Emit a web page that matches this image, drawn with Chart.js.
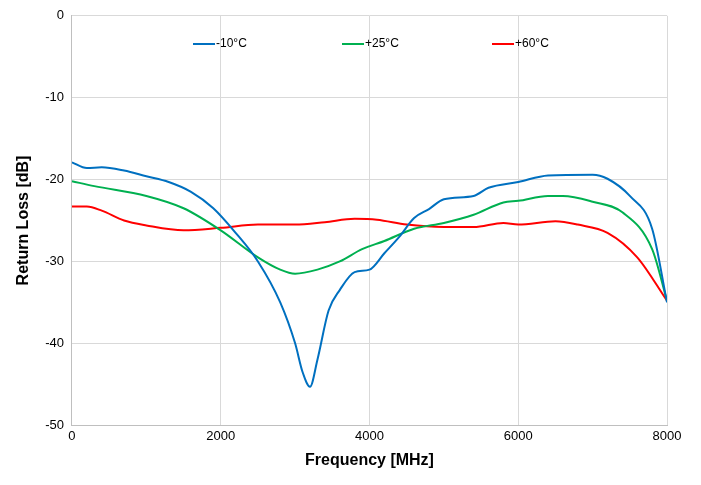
<!DOCTYPE html>
<html><head><meta charset="utf-8">
<script src="https://cdn.jsdelivr.net/npm/chart.js@4/dist/chart.umd.min.js"></script>
<style>body{margin:0;background:#fff}#w{width:701px;height:485px}</style></head>
<body><div id="w"><canvas id="c"></canvas></div>
<script>
const freqBlue=[0,200,400,700,1000,1300,1600,1900,2200,2500,2800,3000,3100,3200,3300,3450,3600,3800,4000,4200,4400,4600,4800,5000,5400,5600,6000,6400,7000,7200,7500,7800,8000];
const blue=[-17.9,-18.6,-18.5,-18.9,-19.6,-20.3,-21.5,-23.5,-26.5,-30,-35,-40,-43.5,-45.3,-42,-36,-33.5,-31.3,-31,-29,-27,-24.7,-23.6,-22.4,-22,-21,-20.3,-19.5,-19.4,-19.9,-22,-26,-35];
const freqGreen=[0,300,1000,1500,2000,2500,2800,3000,3300,3600,3900,4200,4600,5000,5400,5800,6000,6400,6600,7000,7400,7800,8000];
const green=[-20.2,-20.8,-22,-23.5,-26.2,-29.5,-31,-31.5,-31,-30,-28.5,-27.5,-26,-25.3,-24.3,-22.8,-22.6,-22,-22,-22.7,-24,-28.5,-34.8];
const freqRed=[0,200,400,700,1000,1500,2000,2500,3000,3400,3800,4100,4500,5000,5400,5800,6000,6500,6800,7200,7600,8000];
const red=[-23.3,-23.3,-23.8,-25,-25.6,-26.2,-25.9,-25.5,-25.5,-25.2,-24.8,-24.9,-25.5,-25.8,-25.8,-25.3,-25.5,-25.1,-25.5,-26.5,-29.5,-34.8];
const labels=['-10°C','+25°C','+60°C'];
const colors=['#0070C0','#00B050','#FF0000'];
const pts=(f,v)=>f.map((x,i)=>({x,y:v[i]}));
const legendPlugin={id:'lg',afterDraw(ch){const c=ch.ctx;const xs=[193,342,492];c.save();c.font='12px "Liberation Sans", Arial';c.textBaseline='middle';
labels.forEach((l,i)=>{c.strokeStyle=colors[i];c.lineWidth=2;c.beginPath();c.moveTo(xs[i],44);c.lineTo(xs[i]+22,44);c.stroke();c.fillStyle='#000';c.fillText(l,xs[i]+23,44);});c.restore();}};
new Chart(document.getElementById('c'),{type:'line',
data:{datasets:[
{label:labels[0],data:pts(freqBlue,blue),borderColor:colors[0]},
{label:labels[1],data:pts(freqGreen,green),borderColor:colors[1]},
{label:labels[2],data:pts(freqRed,red),borderColor:colors[2]}].map(d=>Object.assign(d,{borderWidth:2,pointRadius:0,cubicInterpolationMode:'monotone',fill:false}))},
options:{responsive:true,maintainAspectRatio:false,animation:false,
layout:{padding:{top:8,right:34,left:10,bottom:11}},
plugins:{legend:{display:false},tooltip:{enabled:false}},
scales:{x:{type:'linear',min:0,max:8000,ticks:{stepSize:2000,callback:v=>String(v),color:'#000',font:{size:13,family:'"Liberation Sans", Arial'}},grid:{color:'#d9d9d9',drawTicks:false},border:{color:'#bfbfbf'},
title:{display:true,text:'Frequency [MHz]',color:'#000',font:{size:16,weight:'bold',family:'"Liberation Sans", Arial'}}},
y:{min:-50,max:0,ticks:{stepSize:10,color:'#000',padding:8,font:{size:13,family:'"Liberation Sans", Arial'}},grid:{color:'#d9d9d9',drawTicks:false},border:{color:'#bfbfbf'},
title:{display:true,text:'Return Loss [dB]',color:'#000',font:{size:16,weight:'bold',family:'"Liberation Sans", Arial'}}}}},
plugins:[legendPlugin]});
</script></body></html>
